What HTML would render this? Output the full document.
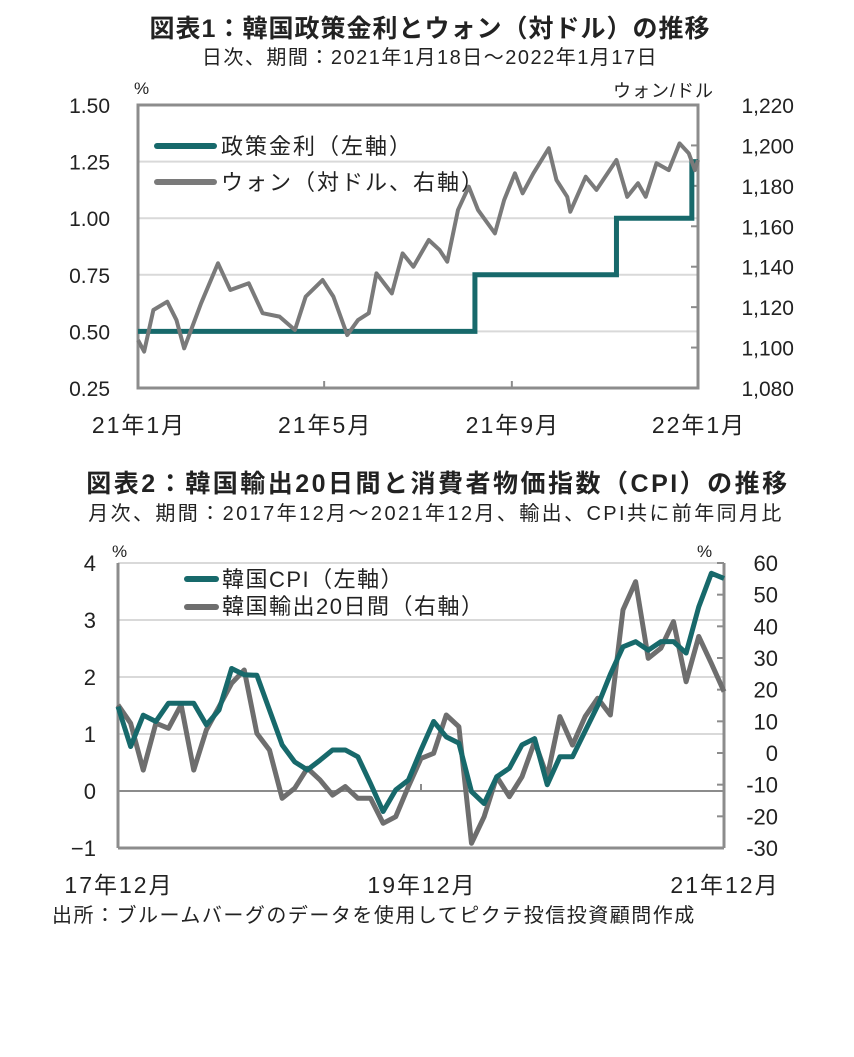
<!DOCTYPE html>
<html><head><meta charset="utf-8">
<style>
body{margin:0;background:#fff;}
svg text{font-family:"Liberation Sans","Noto Sans CJK JP",sans-serif;fill:#222;}
</style></head>
<body>
<svg width="854" height="1052" viewBox="0 0 854 1052">
<g id="c1"></g>
<g id="c2"></g>
</svg>
<script>
// ---- Chart 1 data ----
const wonDays=[0,4,10,19,25,30,41,52,60,72,81,92,102,109,120,127,136,143,150,155,165,172,179,189,196,201,208,215,221,232,238,245,250,257,267,272,279,281,291,298,311,318,325,330,337,345,352,358,362,364];
const wonValues=[1103.7,1098,1118.6,1122.7,1113.6,1099.6,1121.9,1141.7,1128.5,1131.8,1117,1115.3,1108.7,1125.2,1133.4,1125.2,1106.2,1113.6,1117,1136.7,1126.8,1146.6,1140,1153.2,1148.3,1142.5,1168.1,1179.6,1168.1,1156.5,1173,1186.2,1176.3,1186.2,1198.6,1182.9,1174.6,1167.2,1184.5,1178,1192.8,1174.6,1181.3,1174.6,1191.2,1187.8,1201,1196.1,1187.8,1192.8];
const rateDays=[0,219,311,360,364];
const rateValues=[0.5,0.75,1.0,1.25,1.25];
const c1LeftTicks=[0.25,0.5,0.75,1.0,1.25,1.5];
const c1RightTicks=[1080,1100,1120,1140,1160,1180,1200,1220];
const c1XLabels=["21年1月","21年5月","21年9月","22年1月"];
const c1XLabelDays=[0,121,243,364];
// ---- Chart 2 data ----
const months=49;
const cpiValues=[1.48,0.78,1.33,1.22,1.54,1.54,1.54,1.16,1.42,2.15,2.04,2.03,1.42,0.81,0.51,0.37,0.54,0.72,0.72,0.6,0.13,-0.36,0.02,0.19,0.72,1.22,0.95,0.84,-0.01,-0.22,0.25,0.4,0.81,0.92,0.11,0.6,0.6,1.05,1.5,2.05,2.53,2.62,2.47,2.62,2.62,2.42,3.23,3.82,3.73];
const exportValues=[15.2,9.4,-5.4,9.4,7.8,15.2,-5.4,7.3,14.6,22,26.2,6.2,0.9,-14.3,-11.1,-4.8,-8.5,-13.3,-10.6,-14.3,-14.3,-22.2,-20.1,-10.6,-1.7,-0.1,12,8.3,-28.5,-20.1,-7.5,-13.8,-7.5,3.6,-7.5,11.5,2.5,11.5,17.3,12,45.2,54.1,29.9,33.1,41.5,22.5,36.8,28.3,19.4];
const c2LeftTicks=[-1,0,1,2,3,4];
const c2RightTicks=[-30,-20,-10,0,10,20,30,40,50,60];
const c2XLabels=["17年12月","19年12月","21年12月"];
const c2XLabelIdx=[0,24,48];

const NS="http://www.w3.org/2000/svg";
function mk(parent,tag,attrs,text){const e=document.createElementNS(NS,tag);for(const k in attrs)e.setAttribute(k,attrs[k]);if(text!==undefined)e.textContent=text;parent.appendChild(e);return e;}
const TEAL="#17696b",GRAY="#7a7a7a",AX="#8c8c8c",GRID="#d9d9d9";

// ===== Chart 1 =====
(function(){
const g=document.getElementById('c1');
const L=138,R=698,T=105,B=388;
const x=d=>L+d/364*(R-L);
const yl=v=>B-(v-0.25)/1.25*(B-T);
const yr=v=>B-(v-1080)/140*(B-T);
let t=mk(g,'text',{x:430,y:37,'text-anchor':'middle','font-size':25,'font-weight':'bold','letter-spacing':1},'図表1：韓国政策金利とウォン（対ドル）の推移');

t=mk(g,'text',{x:430,y:64,'text-anchor':'middle','font-size':20,'letter-spacing':1.5},'日次、期間：2021年1月18日～2022年1月17日');

t=mk(g,'text',{x:134,y:94,'font-size':17},'%');
t=mk(g,'text',{x:714,y:97,'text-anchor':'end','font-size':18,'letter-spacing':1},'ウォン/ドル');
c1LeftTicks.forEach(v=>{
  if(v>0.25&&v<1.5){const l=mk(g,'line',{x1:L,x2:R,y1:yl(v),y2:yl(v),stroke:GRID,'stroke-width':2});}
  const tx=mk(g,'text',{x:110,y:yl(v)+8,'text-anchor':'end','font-size':21},v.toFixed(2));
  
});
c1RightTicks.forEach(v=>{
  const tk=mk(g,'line',{x1:R-7,x2:R,y1:yr(v),y2:yr(v),stroke:AX,'stroke-width':2});
  
  const tx=mk(g,'text',{x:794,y:yr(v)+8,'text-anchor':'end','font-size':21},v.toLocaleString('en-US'));
  
});
const fr=mk(g,'rect',{x:L,y:T,width:R-L,height:B-T,fill:'none',stroke:AX,'stroke-width':3});

c1XLabels.forEach((s,i)=>{
  const xx=x(c1XLabelDays[i]);
  if(i>0&&i<3){const tk=mk(g,'line',{x1:xx,x2:xx,y1:B-7,y2:B,stroke:AX,'stroke-width':2});}
  const tx=mk(g,'text',{x:xx+1,y:433,'text-anchor':'middle','font-size':23,'letter-spacing':2},s);
  
});
let p='';rateDays.forEach((d,i)=>{if(i===0)p+='M'+x(d)+','+yl(rateValues[i]);else p+='H'+x(d)+'V'+yl(rateValues[i]);});
const rl=mk(g,'path',{d:p,fill:'none',stroke:TEAL,'stroke-width':5});

const wp=wonDays.map((d,i)=>x(d)+','+yr(wonValues[i])).join(' ');
const wl=mk(g,'polyline',{points:wp,fill:'none',stroke:GRAY,'stroke-width':4,'stroke-linejoin':'round'});

let lg=mk(g,'line',{x1:157,x2:214,y1:146,y2:146,stroke:TEAL,'stroke-width':6,'stroke-linecap':'round'});

t=mk(g,'text',{x:221,y:154,'font-size':22,'letter-spacing':2},'政策金利（左軸）');
lg=mk(g,'line',{x1:157,x2:214,y1:182,y2:182,stroke:GRAY,'stroke-width':6,'stroke-linecap':'round'});

t=mk(g,'text',{x:221,y:190,'font-size':22,'letter-spacing':2},'ウォン（対ドル、右軸）');
})();

// ===== Chart 2 =====
(function(){
const g=document.getElementById('c2');
const L=118,R=724,T=563,B=848;
const x=i=>L+i/(months-1)*(R-L);
const yl=v=>B-(v+1)/5*(B-T);
const yr=v=>B-(v+30)/90*(B-T);
let t=mk(g,'text',{x:438,y:492,'text-anchor':'middle','font-size':25,'font-weight':'bold','letter-spacing':2.5},'図表2：韓国輸出20日間と消費者物価指数（CPI）の推移');

t=mk(g,'text',{x:436,y:520,'text-anchor':'middle','font-size':20,'letter-spacing':2.4},'月次、期間：2017年12月～2021年12月、輸出、CPI共に前年同月比');

t=mk(g,'text',{x:112,y:557,'font-size':17},'%');
t=mk(g,'text',{x:697,y:557,'font-size':17},'%');
c2LeftTicks.forEach(v=>{
  if(v>-1){const l=mk(g,'line',{x1:L,x2:R,y1:yl(v),y2:yl(v),stroke:v===0?AX:GRID,'stroke-width':2});}
  const tx=mk(g,'text',{x:96,y:yl(v)+8,'text-anchor':'end','font-size':22},v<0?'−'+Math.abs(v):String(v));
  
});
c2RightTicks.forEach(v=>{
  const tk=mk(g,'line',{x1:R-7,x2:R,y1:yr(v),y2:yr(v),stroke:AX,'stroke-width':2});
  
  const tx=mk(g,'text',{x:778,y:yr(v)+8,'text-anchor':'end','font-size':22},v<0?'-'+Math.abs(v):String(v));
  
});
[['M',L,T,'V',B],['M',L,B,'H',R],['M',R,T,'V',B]].forEach(a=>{
  const ax=mk(g,'path',{d:a[0]+a[1]+','+a[2]+a[3]+a[4],fill:'none',stroke:AX,'stroke-width':3});
  
});
c2XLabels.forEach((s,i)=>{
  const xx=x(c2XLabelIdx[i]);
  const tk=mk(g,'line',{x1:xx,x2:xx,y1:yl(0)-7,y2:yl(0),stroke:AX,'stroke-width':2});
  
  const tx=mk(g,'text',{x:xx+1,y:893,'text-anchor':'middle','font-size':23,'letter-spacing':2},s);
  
});
const ep=exportValues.map((v,i)=>x(i)+','+yr(v)).join(' ');
const el=mk(g,'polyline',{points:ep,fill:'none',stroke:'#6e6e6e','stroke-width':5,'stroke-linejoin':'round'});

const cp=cpiValues.map((v,i)=>x(i)+','+yl(v)).join(' ');
const cl=mk(g,'polyline',{points:cp,fill:'none',stroke:TEAL,'stroke-width':5,'stroke-linejoin':'round'});

let lg=mk(g,'line',{x1:187,x2:216,y1:579,y2:579,stroke:TEAL,'stroke-width':6,'stroke-linecap':'round'});

t=mk(g,'text',{x:222,y:587,'font-size':22,'letter-spacing':1.5},'韓国CPI（左軸）');
lg=mk(g,'line',{x1:187,x2:216,y1:607,y2:607,stroke:'#6e6e6e','stroke-width':6,'stroke-linecap':'round'});

t=mk(g,'text',{x:222,y:614,'font-size':22,'letter-spacing':1.5},'韓国輸出20日間（右軸）');
t=mk(g,'text',{x:52,y:922,'font-size':20,'letter-spacing':1.5},'出所：ブルームバーグのデータを使用してピクテ投信投資顧問作成');

})();
</script>
</body></html>
